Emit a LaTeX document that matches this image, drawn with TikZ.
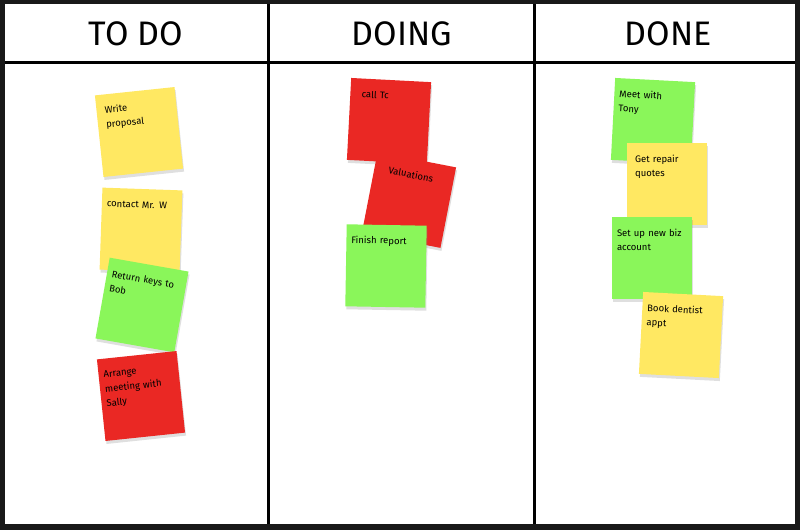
\documentclass[tikz,border=0pt]{standalone}
\usepackage{fontspec}
\setmainfont{Fira Sans}
\usetikzlibrary{shadows}

\definecolor{noteyellow}{RGB}{255,232,98}
\definecolor{notegreen}{RGB}{138,246,90}
\definecolor{notered}{RGB}{234,40,36}

\tikzset{
  board/.style={
    x=1pt,
    y=-1pt
  },
  divider/.style={
    line width=3pt,
    black
  },
  heading/.style={
    font=\fontsize{34}{36}\selectfont,
    inner sep=0pt
  },
  note/.style={
    inner xsep=5pt,
    inner ysep=9pt,
    text width=70pt,
    text height=10pt,
    text depth=54pt,
    align=left,
    font=\fontsize{9.5}{14.5}\selectfont,
    drop shadow={shadow xshift=1pt, shadow yshift=-3pt, opacity=.25}
  },
  yellow note/.style={note, fill=noteyellow},
  green note/.style={note, fill=notegreen},
  red note/.style={note, fill=notered}
}

\begin{document}
\begin{tikzpicture}[board]
    \fill[black!90] (0,0) rectangle (800,530);
    \fill[white] (5,4) rectangle (795,524);
    \draw[divider] (5,62) -- (795,62);
    \draw[divider] (268,4) -- (268,524);
    \draw[divider] (534,4) -- (534,524);

    \node[heading] at (136,34) (todo) {TO DO};
    \node[heading] at (402,34) (doing) {DOING};
    \node[heading] at (668,34) (done) {DONE};

    \node[yellow note, rotate=6] at (139,132) (todo1) {\ Write\\\ proposal};
    \node[yellow note, rotate=-2] at (141,230) (todo2) {contact Mr. W};
    \node[green note, rotate=-10] at (142,305) (todo3) {Return keys to\\Bob};
    \node[red note, rotate=6] at (141,396) (todo4) {Arrange\\meeting with\\Sally};

    \node[red note, rotate=-3] at (389,121) (doing1) {\ \ call Tc};
    \node[red note, rotate=-11] at (409,200) (doing2) {\quad Valuations};
    \node[green note, rotate=-1] at (386,266) (doing3) {Finish report};

    \node[green note, rotate=-3] at (653,121) (done1) {Meet with\\Tony};
    \node[yellow note] at (667,184) (done2) {\ Get repair\\\ quotes};
    \node[green note] at (652,258) (done3) {Set up new biz\\account};
    \node[yellow note, rotate=-3] at (681,335) (done4) {Book dentist\\appt};
  \end{tikzpicture}
\end{document}
